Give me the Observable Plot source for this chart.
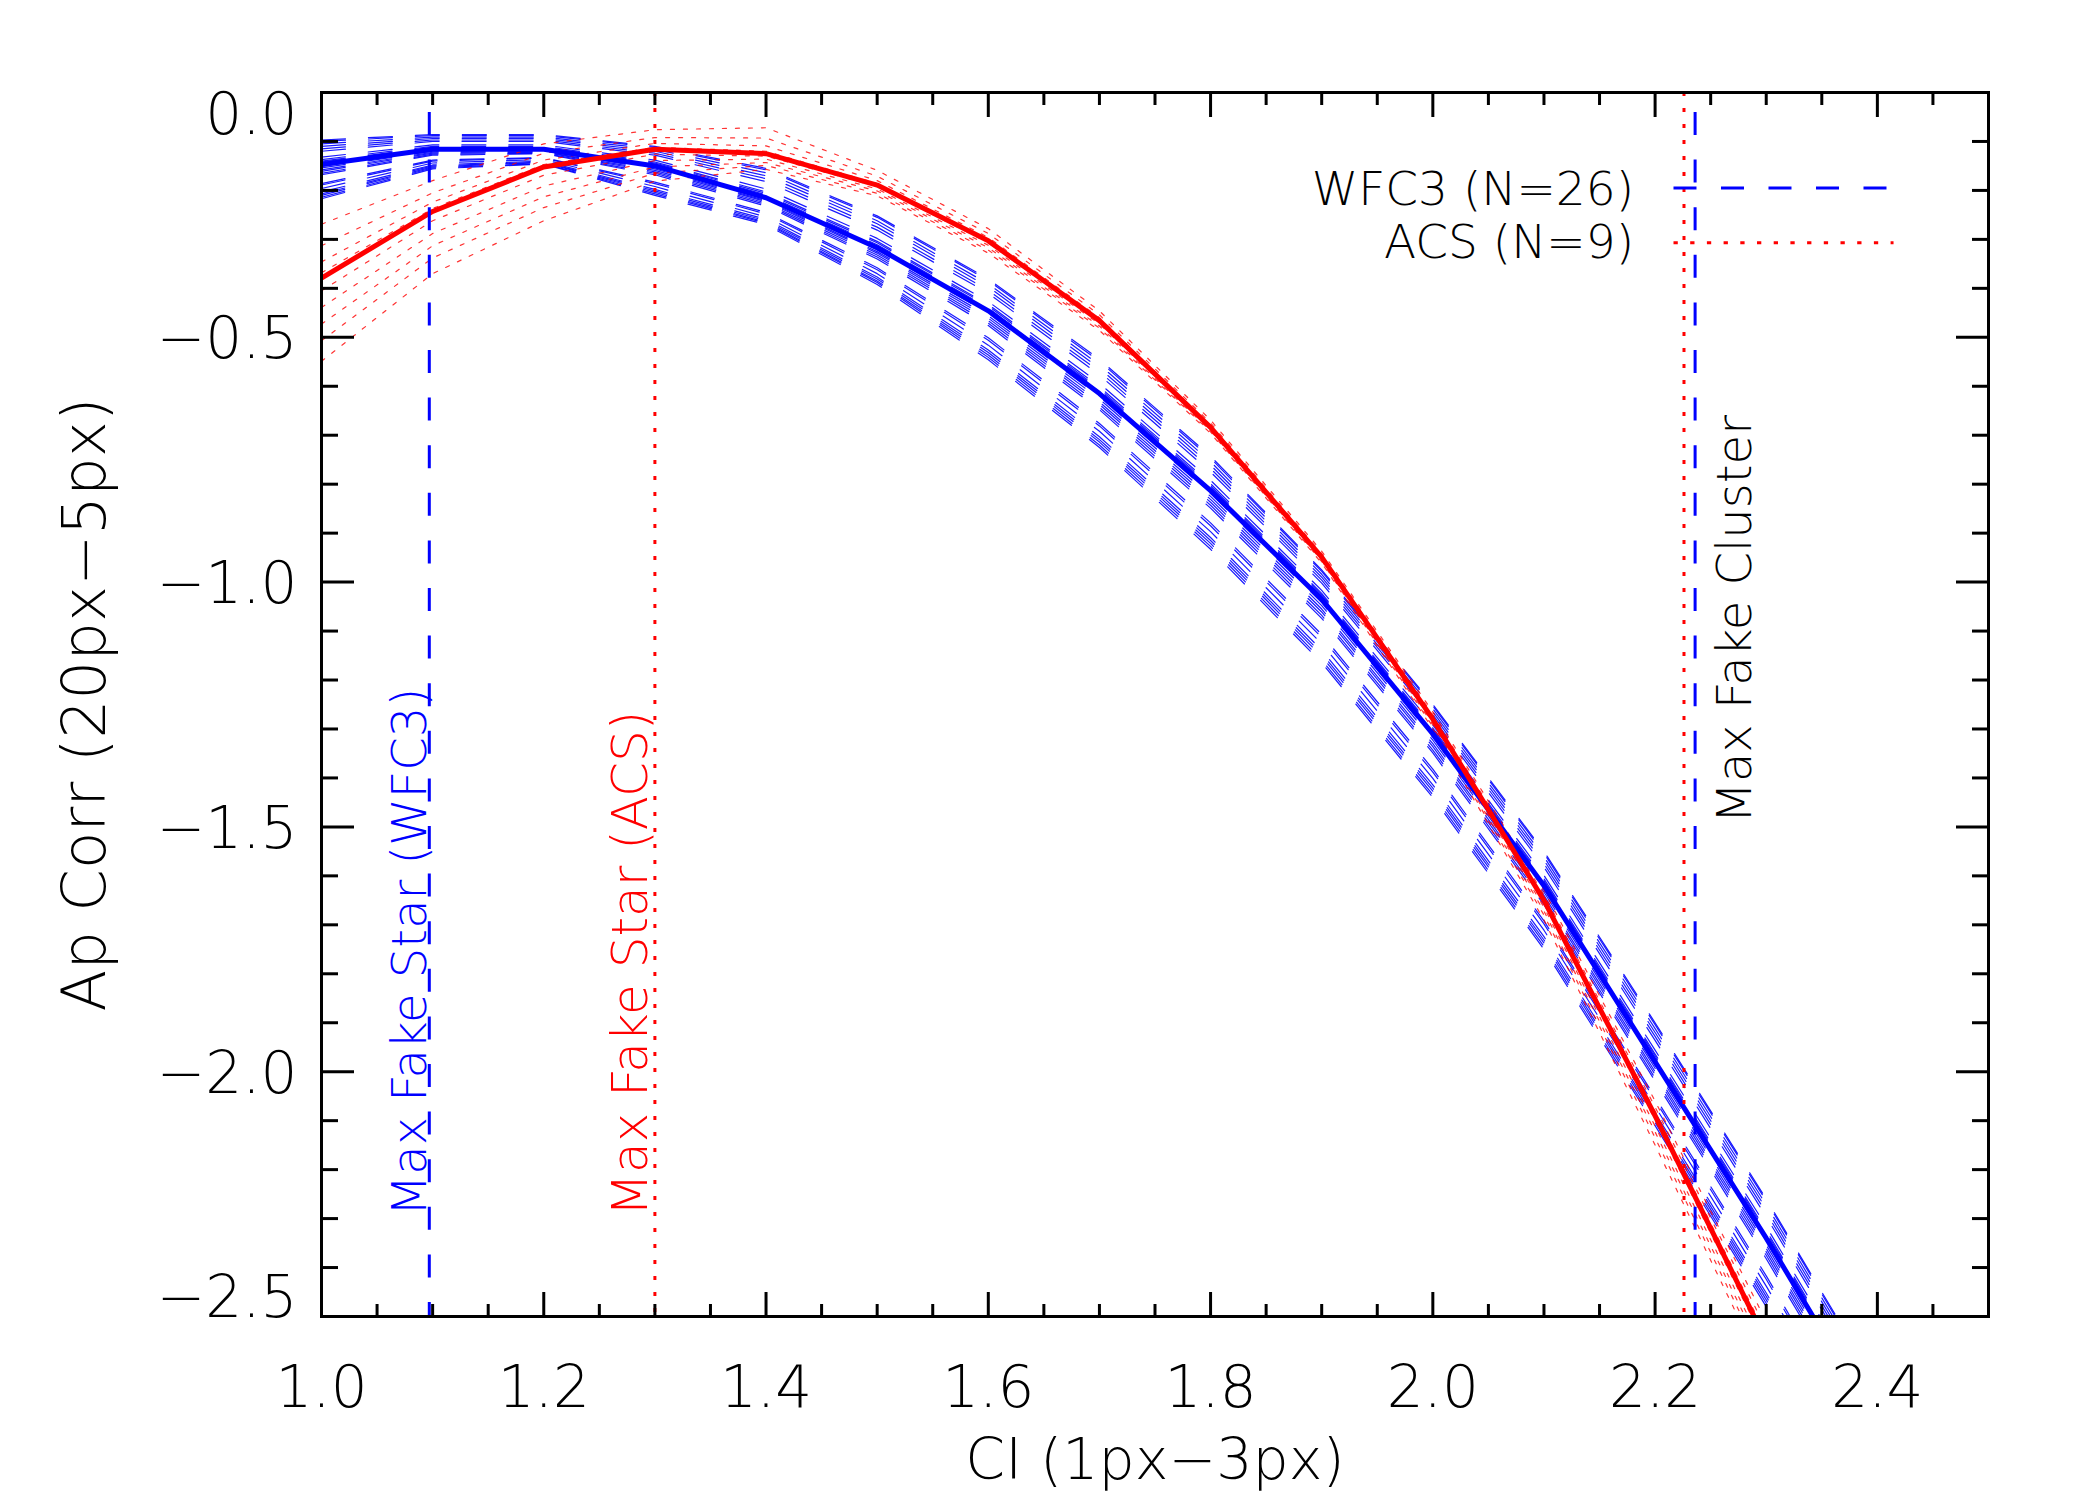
<!DOCTYPE html>
<html>
<head>
<meta charset="utf-8">
<script src="https://cdn.jsdelivr.net/npm/d3@7"></script>
<script src="https://cdn.jsdelivr.net/npm/@observablehq/plot@0.6"></script>
<style>
  html, body { margin: 0; padding: 0; background: #ffffff; }
  #chart svg { display: block; }
</style>
</head>
<body>
<div id="chart"></div>
<script>
// Concentration index grid (1px-3px) at which the aperture corrections are sampled
const ciGrid = [1.0, 1.1, 1.2, 1.3, 1.4, 1.5, 1.6, 1.7, 1.8, 1.9, 2.0, 2.1, 2.2, 2.3, 2.4];

// Mean aperture correction (20px-5px) for each camera
const wfc3Mean = [-0.147, -0.116, -0.116, -0.150, -0.215, -0.317, -0.446, -0.615, -0.813, -1.035, -1.310, -1.620, -1.980, -2.340, -2.720];
const acsMean  = [-0.379, -0.243, -0.152, -0.116, -0.125, -0.189, -0.303, -0.466, -0.684, -0.949, -1.280, -1.650, -2.090, -2.550];

// Individual WFC3 fields (N=26)
const wfc3Curves = [
  [-0.097, -0.086, -0.086, -0.110, -0.155, -0.252, -0.381, -0.545, -0.743, -0.975, -1.250, -1.550, -1.900, -2.260, -2.640],
  [-0.100, -0.088, -0.088, -0.112, -0.158, -0.255, -0.384, -0.549, -0.747, -0.978, -1.253, -1.554, -1.904, -2.264, -2.644],
  [-0.105, -0.091, -0.091, -0.116, -0.164, -0.262, -0.391, -0.556, -0.754, -0.984, -1.259, -1.561, -1.912, -2.272, -2.652],
  [-0.110, -0.094, -0.094, -0.120, -0.170, -0.268, -0.397, -0.563, -0.761, -0.990, -1.265, -1.568, -1.920, -2.280, -2.660],
  [-0.115, -0.097, -0.097, -0.124, -0.176, -0.275, -0.404, -0.570, -0.768, -0.996, -1.271, -1.575, -1.928, -2.288, -2.668],
  [-0.120, -0.100, -0.100, -0.128, -0.182, -0.281, -0.410, -0.577, -0.775, -1.002, -1.277, -1.582, -1.936, -2.296, -2.676],
  [-0.132, -0.107, -0.107, -0.138, -0.197, -0.298, -0.427, -0.594, -0.792, -1.017, -1.292, -1.599, -1.956, -2.316, -2.696],
  [-0.137, -0.110, -0.110, -0.142, -0.203, -0.304, -0.433, -0.601, -0.799, -1.023, -1.298, -1.606, -1.964, -2.324, -2.704],
  [-0.140, -0.112, -0.112, -0.144, -0.206, -0.307, -0.436, -0.605, -0.803, -1.026, -1.301, -1.610, -1.968, -2.328, -2.708],
  [-0.142, -0.113, -0.113, -0.146, -0.209, -0.311, -0.440, -0.608, -0.806, -1.029, -1.304, -1.613, -1.972, -2.332, -2.712],
  [-0.145, -0.115, -0.115, -0.148, -0.212, -0.314, -0.443, -0.612, -0.810, -1.032, -1.307, -1.617, -1.976, -2.336, -2.716],
  [-0.150, -0.118, -0.117, -0.151, -0.216, -0.318, -0.447, -0.616, -0.815, -1.036, -1.311, -1.622, -1.981, -2.342, -2.722],
  [-0.151, -0.118, -0.118, -0.153, -0.218, -0.321, -0.451, -0.621, -0.819, -1.042, -1.317, -1.627, -1.987, -2.347, -2.728],
  [-0.154, -0.120, -0.119, -0.156, -0.221, -0.325, -0.456, -0.626, -0.825, -1.048, -1.323, -1.633, -1.993, -2.354, -2.735],
  [-0.158, -0.122, -0.121, -0.159, -0.223, -0.328, -0.461, -0.632, -0.831, -1.055, -1.330, -1.640, -2.000, -2.361, -2.743],
  [-0.161, -0.124, -0.122, -0.162, -0.226, -0.332, -0.466, -0.637, -0.837, -1.061, -1.336, -1.646, -2.006, -2.368, -2.750],
  [-0.165, -0.126, -0.124, -0.165, -0.229, -0.336, -0.471, -0.643, -0.843, -1.068, -1.343, -1.653, -2.013, -2.375, -2.758],
  [-0.168, -0.128, -0.125, -0.168, -0.232, -0.340, -0.476, -0.648, -0.849, -1.074, -1.349, -1.659, -2.019, -2.382, -2.765],
  [-0.186, -0.138, -0.133, -0.183, -0.245, -0.358, -0.501, -0.676, -0.879, -1.107, -1.382, -1.692, -2.052, -2.417, -2.803],
  [-0.189, -0.140, -0.134, -0.186, -0.248, -0.362, -0.506, -0.681, -0.885, -1.113, -1.388, -1.698, -2.058, -2.424, -2.810],
  [-0.196, -0.144, -0.137, -0.192, -0.254, -0.370, -0.516, -0.692, -0.897, -1.126, -1.401, -1.711, -2.071, -2.438, -2.825],
  [-0.203, -0.148, -0.140, -0.198, -0.259, -0.377, -0.526, -0.703, -0.909, -1.139, -1.414, -1.724, -2.084, -2.452, -2.840],
  [-0.207, -0.150, -0.142, -0.201, -0.262, -0.381, -0.531, -0.709, -0.915, -1.146, -1.421, -1.731, -2.091, -2.459, -2.848],
  [-0.210, -0.152, -0.143, -0.204, -0.265, -0.385, -0.536, -0.714, -0.921, -1.152, -1.427, -1.737, -2.097, -2.466, -2.855],
  [-0.214, -0.154, -0.145, -0.207, -0.267, -0.388, -0.541, -0.720, -0.927, -1.159, -1.434, -1.744, -2.104, -2.473, -2.863],
  [-0.217, -0.156, -0.146, -0.210, -0.270, -0.392, -0.546, -0.725, -0.933, -1.165, -1.440, -1.750, -2.110, -2.480, -2.870]
];

// Individual ACS fields (N=9)
const acsCurves = [
  [-0.269, -0.180, -0.105, -0.076, -0.072, -0.159, -0.278, -0.446, -0.669, -0.937, -1.265, -1.630, -2.060, -2.510],
  [-0.313, -0.205, -0.124, -0.092, -0.093, -0.171, -0.288, -0.454, -0.675, -0.942, -1.271, -1.638, -2.072, -2.526],
  [-0.346, -0.224, -0.138, -0.104, -0.109, -0.180, -0.296, -0.460, -0.680, -0.945, -1.276, -1.644, -2.081, -2.538],
  [-0.368, -0.237, -0.147, -0.112, -0.120, -0.186, -0.301, -0.464, -0.683, -0.948, -1.279, -1.648, -2.087, -2.546],
  [-0.405, -0.262, -0.169, -0.126, -0.130, -0.192, -0.307, -0.469, -0.686, -0.951, -1.283, -1.656, -2.099, -2.561],
  [-0.439, -0.288, -0.191, -0.139, -0.136, -0.197, -0.312, -0.473, -0.688, -0.953, -1.287, -1.664, -2.111, -2.575],
  [-0.473, -0.313, -0.213, -0.152, -0.143, -0.201, -0.317, -0.477, -0.691, -0.956, -1.291, -1.672, -2.123, -2.589],
  [-0.507, -0.338, -0.235, -0.165, -0.149, -0.206, -0.322, -0.481, -0.693, -0.958, -1.295, -1.680, -2.135, -2.603],
  [-0.549, -0.370, -0.262, -0.181, -0.157, -0.211, -0.328, -0.486, -0.696, -0.961, -1.300, -1.690, -2.150, -2.620]
];

// Limits of the fake star / fake cluster tests
const fakeStarWFC3 = 1.097;
const fakeStarACS = 1.3;
const fakeClusterACS = 2.226;
const fakeClusterWFC3 = 2.236;

// Axis ticks and labels
const xMajor = [1.0, 1.2, 1.4, 1.6, 1.8, 2.0, 2.2, 2.4];
const xMinor = [1.05, 1.1, 1.15, 1.25, 1.3, 1.35, 1.45, 1.5, 1.55, 1.65, 1.7, 1.75, 1.85, 1.9, 1.95, 2.05, 2.1, 2.15, 2.25, 2.3, 2.35, 2.45];
const yMajor = [-2.5, -2.0, -1.5, -1.0, -0.5, 0.0];
const yMinor = [-2.4, -2.3, -2.2, -2.1, -1.9, -1.8, -1.7, -1.6, -1.4, -1.3, -1.2, -1.1, -0.9, -0.8, -0.7, -0.6, -0.4, -0.3, -0.2, -0.1];
const xLabels = ["1.0", "1.2", "1.4", "1.6", "1.8", "2.0", "2.2", "2.4"];
const yLabels = ["\u22122.5", "\u22122.0", "\u22121.5", "\u22121.0", "\u22120.5", "0.0"];

const BLUE = "#0000ff";
const RED = "#ff0000";

// Long-format rows for the line marks
const toRows = (curves) => curves.flatMap((c, i) => c.map((v, j) => ({ci: ciGrid[j], corr: v, id: i})));
const wfc3Rows = toRows(wfc3Curves);
const acsRows = toRows(acsCurves);
const wfc3MeanRows = wfc3Mean.map((v, j) => ({ci: ciGrid[j], corr: v}));
const acsMeanRows = acsMean.map((v, j) => ({ci: ciGrid[j], corr: v}));

const yTickRows = yMajor.map((v, i) => ({v, label: yLabels[i]}));
const xTickRows = xMajor.map((v, i) => ({v, label: xLabels[i]}));

const tickOpts = {stroke: "black", strokeWidth: 3, fill: "none", label: null};

const chart = Plot.plot({
  width: 2100,
  height: 1500,
  marginLeft: 321,
  marginRight: 112,
  marginTop: 92,
  marginBottom: 184,
  x: {domain: [1.0, 2.5]},
  y: {domain: [-2.5, 0.0]},
  style: {fontFamily: "'DejaVu Sans', sans-serif", fontWeight: 200, background: "#ffffff", color: "black"},
  marks: [
    // individual fields
    Plot.line(wfc3Rows, {x: "ci", y: "corr", z: "id", stroke: BLUE, strokeWidth: 1.2, strokeOpacity: 0.9, strokeDasharray: "24,23", clip: true}),
    Plot.line(acsRows, {x: "ci", y: "corr", z: "id", stroke: RED, strokeWidth: 1.2, strokeOpacity: 0.8, strokeDasharray: "4,9", clip: true}),
    // camera means
    Plot.line(wfc3MeanRows, {x: "ci", y: "corr", stroke: BLUE, strokeWidth: 5, clip: true}),
    Plot.line(acsMeanRows, {x: "ci", y: "corr", stroke: RED, strokeWidth: 5, clip: true}),

    // fake star / fake cluster limits
    Plot.ruleX([fakeStarWFC3], {stroke: BLUE, strokeWidth: 3, strokeDasharray: "23,24.6", strokeDashoffset: 27.6}),
    Plot.ruleX([fakeStarACS], {stroke: RED, strokeWidth: 3, strokeDasharray: "4,12"}),
    Plot.ruleX([fakeClusterACS], {stroke: RED, strokeWidth: 3, strokeDasharray: "4,12"}),
    Plot.ruleX([fakeClusterWFC3], {stroke: BLUE, strokeWidth: 3, strokeDasharray: "23,24.6", strokeDashoffset: 27.6}),

    Plot.text(["Max Fake Star (WFC3)"], {x: 1.094, y: -2.295, text: d => d, rotate: -90, textAnchor: "start", lineAnchor: "bottom", fill: BLUE, fontSize: 48}),
    Plot.text(["Max Fake Star (ACS)"], {x: 1.293, y: -2.295, text: d => d, rotate: -90, textAnchor: "start", lineAnchor: "bottom", fill: RED, fontSize: 50}),
    Plot.text(["Max Fake Cluster"], {x: 2.286, y: -1.493, text: d => d, rotate: -90, textAnchor: "start", lineAnchor: "bottom", fill: "black", fontSize: 48}),

    // legend
    Plot.text(["WFC3 (N=26)"], {x: 2.181, y: -0.229, text: d => d, textAnchor: "end", lineAnchor: "bottom", fill: "black", fontSize: 47}),
    Plot.text(["ACS (N=9)"], {x: 2.181, y: -0.339, text: d => d, textAnchor: "end", lineAnchor: "bottom", fill: "black", fontSize: 47}),
    Plot.ruleY([-0.195], {x1: 2.217, x2: 2.409, stroke: BLUE, strokeWidth: 3, strokeDasharray: "23,24.5"}),
    Plot.ruleY([-0.307], {x1: 2.217, x2: 2.415, stroke: RED, strokeWidth: 3, strokeDasharray: "4.3,12.4"}),

    // box with inward ticks on all four sides
    Plot.frame({stroke: "black", strokeWidth: 3}),
    Plot.axisX(xMajor, {anchor: "bottom", tickSize: -24, ...tickOpts}),
    Plot.axisX(xMinor, {anchor: "bottom", tickSize: -12, ...tickOpts}),
    Plot.axisX(xMajor, {anchor: "top", tickSize: -24, ...tickOpts}),
    Plot.axisX(xMinor, {anchor: "top", tickSize: -12, ...tickOpts}),
    Plot.axisY(yMajor, {anchor: "left", tickSize: -33, ...tickOpts}),
    Plot.axisY(yMinor, {anchor: "left", tickSize: -17, ...tickOpts}),
    Plot.axisY(yMajor, {anchor: "right", tickSize: -33, ...tickOpts}),
    Plot.axisY(yMinor, {anchor: "right", tickSize: -17, ...tickOpts}),

    // tick labels (end labels are held inside the axis range)
    Plot.text(xTickRows, {x: "v", text: "label", frameAnchor: "bottom", dy: 90.5, lineAnchor: "bottom", fontSize: 58, fill: "black"}),
    Plot.text(yTickRows.filter(d => d.v > -2.5 && d.v < 0), {y: "v", text: "label", frameAnchor: "left", dx: -24, dy: 21, textAnchor: "end", lineAnchor: "bottom", fontSize: 58, fill: "black"}),
    Plot.text(yTickRows.filter(d => d.v === 0), {y: "v", text: "label", frameAnchor: "left", dx: -24, dy: 41.5, textAnchor: "end", lineAnchor: "bottom", fontSize: 58, fill: "black"}),
    Plot.text(yTickRows.filter(d => d.v === -2.5), {y: "v", text: "label", frameAnchor: "left", dx: -24, dy: 0.5, textAnchor: "end", lineAnchor: "bottom", fontSize: 58, fill: "black"}),

    // axis titles
    Plot.text(["CI (1px\u22123px)"], {frameAnchor: "bottom", dy: 144, text: d => d, textAnchor: "middle", lineAnchor: "middle", fontSize: 57, fill: "black"}),
    Plot.text(["Ap Corr (20px\u22125px)"], {frameAnchor: "left", dx: -236, text: d => d, rotate: -90, textAnchor: "middle", lineAnchor: "middle", fontSize: 61, fill: "black"})
  ]
});

document.getElementById("chart").appendChild(chart);
</script>
</body>
</html>
